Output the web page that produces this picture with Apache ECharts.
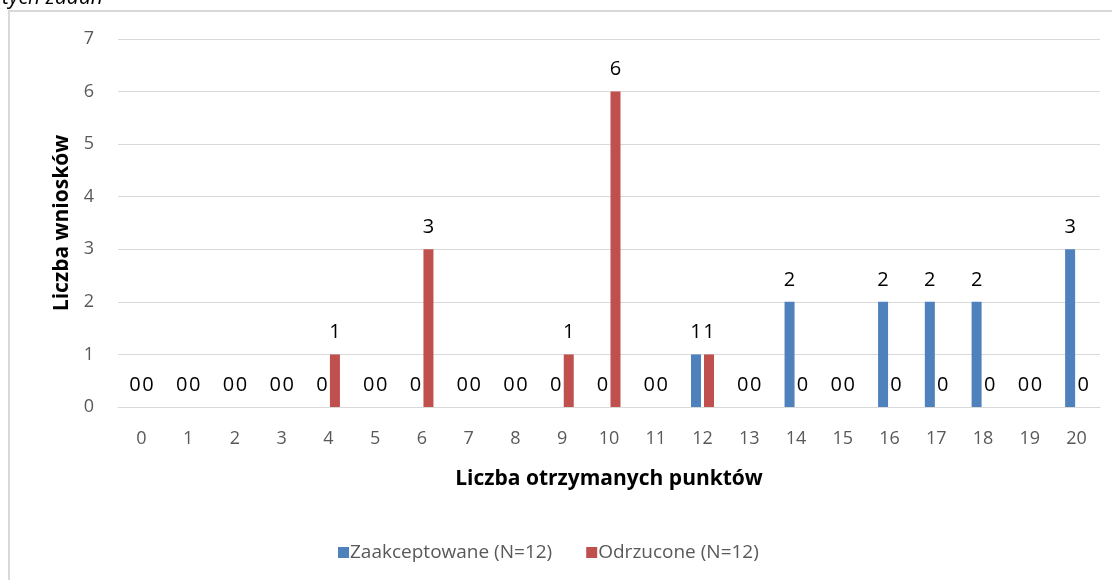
<!DOCTYPE html>
<html>
<head>
<meta charset="utf-8">
<script src="https://cdn.jsdelivr.net/npm/echarts@6/dist/echarts.min.js"></script>
<style>
    html, body { margin: 0; padding: 0; background: #fff; }
    #chart { width: 1112px; height: 580px; }
</style>
</head>
<body>
<div id="chart"></div>
<script>
// punkty (kategorie osi X)
var categories = ['0', '1', '2', '3', '4', '5', '6', '7', '8', '9', '10',
    '11', '12', '13', '14', '15', '16', '17', '18', '19', '20'];
// liczba wniosków
var accepted = [0, 0, 0, 0, 0, 0, 0, 0, 0, 0, 0, 0, 1, 0, 2, 0, 2, 2, 2, 0, 3];
var rejected = [0, 0, 0, 0, 1, 0, 3, 0, 0, 1, 6, 0, 1, 0, 0, 0, 0, 0, 0, 0, 0];
var yTicks = [0, 1, 2, 3, 4, 5, 6, 7];

(function () {
    var chart = echarts.init(document.getElementById('chart'));
    var font = '"Open Sans", "Noto Sans", sans-serif';

    var labelStyle = {
        show: true,
        position: 'top',
        distance: 12,
        color: '#000',
        fontSize: 20,
        fontFamily: font
    };

    var option = {
        animation: false,
        backgroundColor: '#fff',
        textStyle: { fontFamily: font },
        graphic: [{
            type: 'rect',
            shape: { x: 9, y: 11, width: 1200, height: 700 },
            style: { fill: 'none', stroke: '#d9d9d9', lineWidth: 2 },
            silent: true
        }, {
            type: 'text',
            x: 2,
            y: -12,
            style: {
                text: 'tych zadań',
                fontSize: 21,
                fontStyle: 'italic',
                fontFamily: font,
                fill: '#000'
            },
            silent: true
        }],
        grid: {
            left: 118,
            right: 12,
            top: 39,
            bottom: 173
        },
        legend: {
            data: ['Zaakceptowane (N=12)', 'Odrzucone (N=12)'],
            left: 333,
            top: 538,
            icon: 'rect',
            itemWidth: 11,
            itemHeight: 11,
            itemGap: 34,
            textStyle: { color: '#595959', fontSize: 19, fontFamily: font, padding: [0, 0, 0, -4] }
        },
        xAxis: {
            type: 'category',
            data: categories,
            name: 'Liczba otrzymanych punktów',
            nameLocation: 'middle',
            nameGap: 62,
            nameTextStyle: { color: '#000', fontSize: 21, fontWeight: 'bold', fontFamily: font },
            axisLine: { show: true, lineStyle: { color: '#d9d9d9', width: 1 } },
            axisTick: { show: false },
            axisLabel: { color: '#595959', fontSize: 18, margin: 23 }
        },
        yAxis: {
            type: 'value',
            min: yTicks[0],
            max: yTicks[yTicks.length - 1],
            interval: 1,
            name: 'Liczba wniosków',
            nameLocation: 'middle',
            nameGap: 44,
            nameTextStyle: { color: '#000', fontSize: 21, fontWeight: 'bold', fontFamily: font },
            axisLine: { show: false },
            axisTick: { show: false },
            axisLabel: { color: '#595959', fontSize: 18, margin: 24 },
            splitLine: { lineStyle: { color: '#d9d9d9', width: 1 } }
        },
        series: [{
            name: 'Zaakceptowane (N=12)',
            type: 'bar',
            data: accepted,
            barWidth: 10,
            barGap: '30%',
            itemStyle: { color: '#4f81bd' },
            label: labelStyle
        }, {
            name: 'Odrzucone (N=12)',
            type: 'bar',
            data: rejected,
            barWidth: 10,
            itemStyle: { color: '#c0504d' },
            label: labelStyle
        }]
    };

    chart.setOption(option);
})();
</script>
</body>
</html>
